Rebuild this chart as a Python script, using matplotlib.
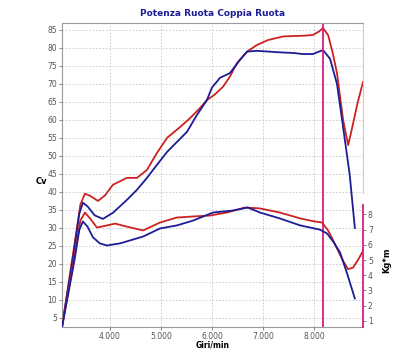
import matplotlib
matplotlib.use('Agg')
import matplotlib.pyplot as plt
import matplotlib.ticker as ticker

# power (Cv) vs rpm
rpm_red_cv = [3060, 3300, 3420, 3510, 3600, 3765, 3900, 4059, 4333, 4530, 4725, 4920, 5118, 5373,
              5570, 5765, 5900, 6050, 6215, 6350, 6490, 6690, 6880, 7100, 7400, 7590, 7800,
              7980, 8100, 8176, 8275, 8360, 8450, 8570, 8670, 8750, 8850, 8960]
cv_red = [2.5, 25.0, 36.5, 39.5, 39.0, 37.5, 39.0, 42.0, 43.9, 43.9, 46.1, 50.8, 55.0, 58.0,
          60.5, 63.3, 65.5, 67.0, 69.2, 72.0, 75.8, 79.0, 80.8, 82.2, 83.2, 83.3, 83.4,
          83.6, 84.6, 85.5, 83.6, 79.0, 73.0, 60.0, 53.0, 58.0, 64.5, 70.5]

rpm_blue_cv = [3060, 3300, 3400, 3470, 3560, 3700, 3860, 4059, 4333, 4530, 4725, 4920, 5118, 5314,
               5510, 5706, 5900, 6000, 6157, 6350, 6550, 6690, 6880, 7300, 7590, 7784, 7980,
               8100, 8176, 8314, 8450, 8570, 8700, 8800]
cv_blue = [2.5, 24.0, 34.0, 37.0, 36.0, 33.5, 32.5, 34.2, 37.8, 40.6, 43.9, 47.5, 51.1, 53.9,
           56.7, 61.4, 65.5, 69.0, 71.7, 73.0, 76.7, 79.0, 79.2, 78.8, 78.6, 78.3, 78.3,
           79.0, 79.4, 77.0, 70.0, 58.0, 44.7, 30.0]

# torque (Kg*m) vs rpm
rpm_red_kgm = [3060, 3300, 3420, 3510, 3620, 3745, 3900, 4100, 4333, 4650, 4980, 5310, 5630,
               5960, 6290, 6650, 6940, 7330, 7730, 8000, 8157, 8275, 8360, 8450, 8560, 8667,
               8765, 8860, 8960]
kgm_red = [0.57, 5.2, 7.6, 8.13, 7.7, 7.14, 7.25, 7.4, 7.2, 6.95, 7.47, 7.8, 7.87,
           7.93, 8.13, 8.46, 8.4, 8.13, 7.74, 7.55, 7.47, 6.95, 6.4, 5.76, 5.0, 4.4,
           4.5, 5.0, 5.6]

rpm_blue_kgm = [3060, 3300, 3400, 3470, 3560, 3667, 3800, 3940, 4200, 4650, 4980, 5310, 5630,
                6020, 6410, 6700, 6940, 7330, 7730, 8118, 8255, 8380, 8510, 8650, 8800]
kgm_blue = [0.57, 4.9, 7.0, 7.54, 7.2, 6.5, 6.1, 5.96, 6.1, 6.55, 7.08, 7.28, 7.6,
            8.13, 8.26, 8.46, 8.13, 7.74, 7.28, 7.0, 6.75, 6.2, 5.5, 4.1, 2.47]

rpm_marker = 8180

red = '#cc2222'
blue = '#1c1c96'
magenta = '#d81c82'

fig = plt.figure(figsize=(4, 3.5), dpi=100)
ax = fig.add_axes([0.155, 0.066, 0.7525, 0.868])
ax2 = ax.twinx()

ax.plot(rpm_red_cv, cv_red, color=red, lw=1.3)
ax.plot(rpm_blue_cv, cv_blue, color=blue, lw=1.3)
ax2.plot(rpm_red_kgm, kgm_red, color=red, lw=1.3)
ax2.plot(rpm_blue_kgm, kgm_blue, color=blue, lw=1.3)
ax.axvline(rpm_marker, color=magenta, lw=1.3)

ax.set_xlim(3060, 8960)
ax.set_ylim(2.5, 86.9)
ax2.set_ylim(0.6, 20.6)

ax.xaxis.set_major_locator(ticker.MultipleLocator(1000))
ax.xaxis.set_major_formatter(ticker.FuncFormatter(lambda v, p: '{:,.0f}'.format(v).replace(',', '.')))
ax.yaxis.set_major_locator(ticker.MultipleLocator(5))
ax2.set_yticks(range(1, 9))

ax.grid(True, color='#c8c8c8', ls=(0, (2, 2)), lw=0.6)
ax.tick_params(labelsize=5.5, colors='#555555', length=2, width=0.5, pad=1.5)
ax2.tick_params(labelsize=5.5, colors='#555555', length=2, width=0.5, pad=1.5)

for s in ['top', 'left', 'bottom']:
    ax.spines[s].set_color('#999999')
    ax.spines[s].set_linewidth(0.8)
ax.spines['right'].set_visible(False)
for s in ['top', 'left', 'bottom']:
    ax2.spines[s].set_visible(False)
ax2.spines['right'].set_color(magenta)
ax2.spines['right'].set_linewidth(1.3)
ax2.spines['right'].set_bounds(0.6, 8.6)
ax.plot([1, 1], [0.44, 1], transform=ax.transAxes, color='#cccccc', lw=0.8, clip_on=False)

ax.set_xlabel('Giri/min', fontsize=5.5, fontweight='bold')
ax.xaxis.set_label_coords(0.5, -0.045)
ax.set_ylabel('Cv', fontsize=6, fontweight='bold', rotation=0, ha='center', va='center')
ax.yaxis.set_label_coords(-0.068, 0.48)
ax2.set_ylabel('Kg*m', fontsize=6, fontweight='bold')
ax2.yaxis.set_label_coords(1.065, 0.22)
ax.set_title('Potenza Ruota Coppia Ruota', fontsize=6.5, fontweight='bold', color='#1c1c96', pad=5)

plt.savefig('out.png', dpi=100)
